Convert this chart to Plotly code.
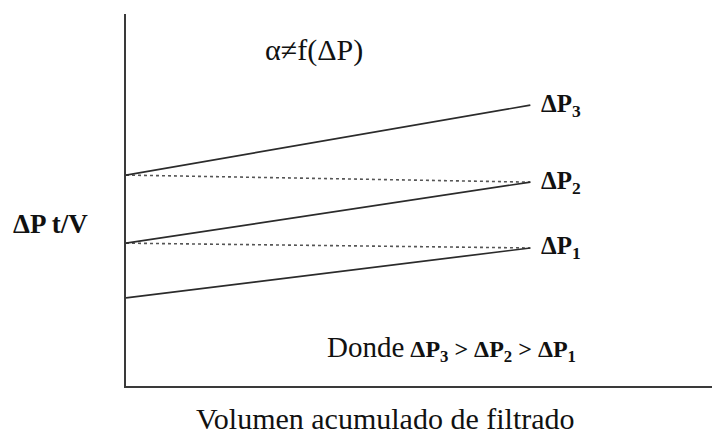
import plotly.graph_objects as go

# Filtration lines: ΔP·t/V against accumulated filtrate volume
series_names = ["ΔP<sub>1</sub>", "ΔP<sub>2</sub>", "ΔP<sub>3</sub>"]
vol_start = [0.0, 0.0, 0.0]
vol_end = [6.9, 6.9, 6.9]
y_start = [2.37, 3.84, 5.67]
y_end = [3.71, 5.48, 7.55]

# Dotted guides: intercept of the next-higher pressure line to the end of each line
guide_start = [3.84, 5.67]
guide_end = [3.71, 5.48]

SERIF = "Liberation Serif"
INK = "#2b2b2b"
TEXT = "#111111"

fig = go.Figure()

for i in range(len(guide_start)):
    fig.add_trace(go.Scatter(
        x=[vol_start[i], vol_end[i]],
        y=[guide_start[i], guide_end[i]],
        mode="lines",
        line=dict(color="#555555", width=1.6, dash="dot"),
        hoverinfo="skip",
        showlegend=False,
    ))

for i, name in enumerate(series_names):
    fig.add_trace(go.Scatter(
        x=[vol_start[i], vol_end[i]],
        y=[y_start[i], y_end[i]],
        mode="lines",
        line=dict(color=INK, width=1.7),
        name=name,
        showlegend=False,
    ))
    fig.add_annotation(
        x=vol_end[i] + 0.15, y=y_end[i],
        xref="x", yref="y",
        text="<b>" + name + "</b>",
        showarrow=False, xanchor="left", yanchor="middle",
        font=dict(family=SERIF, size=25, color=TEXT),
    )

fig.add_annotation(
    x=0.32, y=0.903, xref="paper", yref="paper",
    text="α≠f(ΔP)", showarrow=False,
    xanchor="center", yanchor="middle",
    font=dict(family=SERIF, size=30, color=TEXT),
)
fig.add_annotation(
    x=-0.128, y=0.435, xref="paper", yref="paper",
    text="<b>ΔP t/V</b>", showarrow=False,
    xanchor="center", yanchor="middle",
    font=dict(family=SERIF, size=27, color=TEXT),
)
fig.add_annotation(
    x=0.339, y=0.10, xref="paper", yref="paper",
    text="<span style='font-size:29px'>Donde</span> "
         "<b>ΔP<sub>3</sub> > ΔP<sub>2</sub> > ΔP<sub>1</sub></b>",
    showarrow=False, xanchor="left", yanchor="middle",
    font=dict(family=SERIF, size=24, color=TEXT),
)
fig.add_annotation(
    x=0.4435, y=-0.0887, xref="paper", yref="paper",
    text="Volumen acumulado de filtrado", showarrow=False,
    xanchor="center", yanchor="middle",
    font=dict(family=SERIF, size=30, color=TEXT),
)

axis_common = dict(
    showgrid=False, zeroline=False, showticklabels=False, ticks="",
    showline=True, linecolor="#3a3a3a", linewidth=2,
)
fig.update_xaxes(range=[0, 10], **axis_common)
fig.update_yaxes(range=[0, 10], **axis_common)

fig.update_layout(
    width=724, height=435,
    margin=dict(l=126, r=12, t=14, b=49),
    paper_bgcolor="white", plot_bgcolor="white",
)

fig.write_html("out.html")
